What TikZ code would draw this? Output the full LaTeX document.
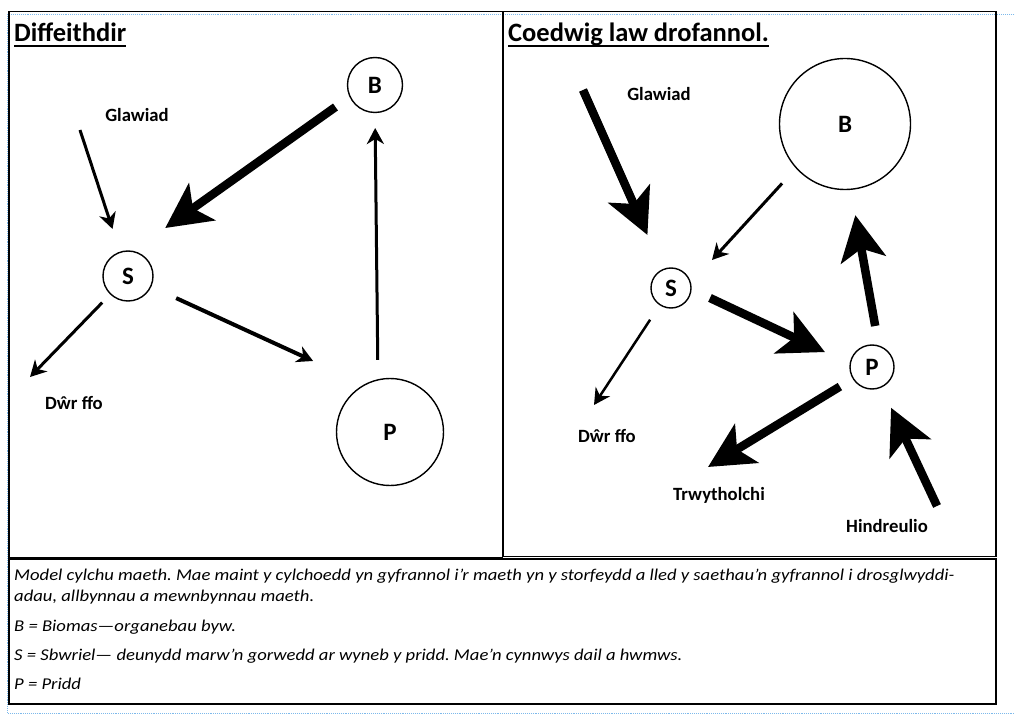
\documentclass[tikz,border=0pt]{standalone}
\usepackage{fontspec}
\setmainfont{Carlito}
\newfontfamily\keyfont[FakeStretch=1.13]{Carlito}
\usetikzlibrary{arrows.meta}
\definecolor{guideblue}{RGB}{125,185,235}

\begin{document}
\begin{tikzpicture}[%
        x=1pt, y=-1pt,               % pixel grid of the page, y going down
        font=\bfseries\fontsize{18.7}{22}\selectfont,
    ]
    \tikzset{
        frame/.style={draw, line width=1.3pt},
        guide/.style={draw, guideblue, densely dotted, line width=0.9pt},
        pool/.style={draw, circle, line width=1.4pt, inner sep=0pt, outer sep=0pt,
            font=\bfseries\fontsize{25}{29}\selectfont},
        flux/.style={inner sep=0pt},
        heading/.style={anchor=base west, inner sep=0pt,
            font=\bfseries\fontsize{26.5}{30}\selectfont},
        legend/.style={anchor=north west, align=left, inner sep=0pt,
            font=\keyfont\itshape\fontsize{16.5}{21}\selectfont\frenchspacing},
        % -------------------------------------------------
        % Connector styles: small and large nutrient transfers
        slim/.style={draw, line width=3pt, -{Stealth[length=16pt, width=17pt, inset=5pt]}},
        heavy/.style={draw, line width=8.5pt, -{Stealth[length=45pt, width=45pt, inset=11pt]}},
    }
    \useasboundingbox (0,0) rectangle (1015,719);
    %%% Frames
    \draw [guide] (7.5,14.5) -- (1015,14.5);
    \draw [guide] (7.5,14.5) -- (7.5,713) -- (1015,713);
    \draw [frame] (9,11.5) rectangle (502.5,557.6);
    \draw [frame] (503.5,11.5) rectangle (996,556.5);
    \draw [frame] (9,559) rectangle (996,704);
    %%% Titles
    \node [heading] (desTitle) at (14,42) {Diffeithdir};
    \node [heading] (forTitle) at (508,42) {Coedwig law drofannol.};
    \draw [line width=2pt] ([yshift=-4.5pt]desTitle.base west) -- ([yshift=-4.5pt]desTitle.base east);
    \draw [line width=2pt] ([yshift=-4.5pt]forTitle.base west) -- ([yshift=-4.5pt]forTitle.base east);
    %%% Blocks
    % -- desert
    \node [pool, minimum size=55pt] (desB) at (375,85) {B};
    \node [pool, minimum size=50pt] (desS) at (128,276) {S};
    \node [pool, minimum size=107pt] (desP) at (390,432) {P};
    % -- rainforest
    \node [pool, minimum size=131pt] (forB) at (845,124) {B};
    \node [pool, minimum size=40pt] (forS) at (671,288) {S};
    \node [pool, minimum size=44pt] (forP) at (872,367) {P};
    %%% Labels
    \node [flux] (desRain) at (137,115) {Glawiad};
    \node [flux] (desRun) at (74,403) {Dŵr ffo};
    \node [flux] (forRain) at (659,94) {Glawiad};
    \node [flux] (forRun) at (607,436) {Dŵr ffo};
    \node [flux] (forLeach) at (719,495) {Trwytholchi};
    \node [flux] (forWeath) at (887,526) {Hindreulio};
    \node [legend] (key) at (14,569) {Model cylchu maeth. Mae maint y cylchoedd yn gyfrannol i’r maeth yn y storfeydd a lled y saethau’n gyfrannol i drosglwyddi-\\
        adau, allbynnau a mewnbynnau maeth.\\[8.5pt]
        B = Biomas—organebau byw.\\[8pt]
        S = Sbwriel— deunydd marw’n gorwedd ar wyneb y pridd. Mae’n cynnwys dail a hwmws.\\[8pt]
        P = Pridd};
    %%% Nodes
    \coordinate (c1) at (80,130);
    \coordinate (c2) at (30,377);
    \coordinate (c3) at (583,90);
    \coordinate (c4) at (594,405);
    \coordinate (c5) at (708,467);
    \coordinate (c6) at (937,506);
    %%% Connectors
    % -- desert
    \draw [slim, shorten >=24.5pt] (c1) -- (desS);
    \draw [slim, shorten <=12pt] (desS) -- (c2);
    \draw [slim, line width=4pt, shorten <=28pt, shorten >=57pt] (desS) -- (desP.118);
    \draw [slim, shorten <=20pt, shorten >=15.5pt] (desP.103) -- (desB.270);
    \draw [heavy, shorten <=17.9pt, shorten >=40.3pt] (desB.205) -- (desS.80);
    % -- rainforest
    \draw [heavy, shorten >=38pt] (c3) -- (forS);
    \draw [slim, shorten <=21.1pt, shorten >=31.9pt] (forB.222) -- (forS.13);
    \draw [heavy, shorten <=21pt, shorten >=27.9pt] (forS.357) -- (forP.172);
    \draw [heavy, shorten <=20.4pt, shorten >=26.3pt] (forP.72) -- (forB.275);
    \draw [slim, line width=2.5pt, shorten <=18pt] (forS) -- (c4);
    \draw [heavy, shorten <=15.6pt] (forP) -- (c5);
    \draw [heavy, shorten >=23pt] (c6) -- (forP);
\end{tikzpicture}
\end{document}
